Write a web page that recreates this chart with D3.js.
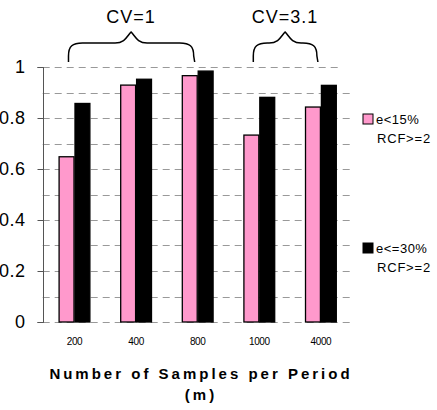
<!DOCTYPE html>
<html><head><meta charset="utf-8">
<script src="https://cdn.jsdelivr.net/npm/d3@7"></script>
<style>body{margin:0;background:#fff}svg{display:block;font-family:"Liberation Sans",Arial,sans-serif}</style>
</head><body><svg width="437" height="410"></svg>
<script>
const categories = ["200","400","800","1000","4000"];
const seriesNames = ["e<15%\nRCF>=2","e<=30%\nRCF>=2"];
const series1 = [0.648,0.929,0.966,0.733,0.843];
const series2 = [0.857,0.952,0.984,0.881,0.928];
const yTicks = [0,0.2,0.4,0.6,0.8,1];
const groups = [{label:"CV=1", from:"200", to:"800"},{label:"CV=3.1", from:"1000", to:"4000"}];

const svg = d3.select("svg");
const pL = 42.7, pR = 352.7, pT = 67, pB = 322;
const x = d3.scaleBand().domain(categories).range([pL,pR]).paddingInner(0.4839).paddingOuter(0.258);
const x1 = d3.scaleBand().domain([0,1]).range([0,x.bandwidth()]);
const y = d3.scaleLinear().domain([0,1]).range([pB,pT]);

// gridlines every 0.1
const gridVals = d3.range(0,11).map(d=>d/10);
svg.append("g").selectAll("line").data(gridVals).join("line")
  .attr("x1",pL).attr("x2",d=> d===1 ? 342 : 352)
  .attr("y1",d=>Math.round(y(d))+0.5).attr("y2",d=>Math.round(y(d))+0.5)
  .attr("stroke","#999").attr("stroke-width",1).attr("stroke-dasharray","7,5");

// y axis
const yAxis = d3.axisLeft(y).tickValues(yTicks).tickFormat(d=>d===0||d===1?String(d):d3.format(".1f")(d)).tickSize(6).tickPadding(12);
const ga = svg.append("g").attr("transform",`translate(${Math.round(pL)+0.5},0)`).call(yAxis);
ga.select(".domain").attr("stroke","#555").attr("d",`M-6,${Math.round(y(0))+0.5}H0V${Math.round(y(1))+0.5}H-6`);
ga.selectAll(".tick line").attr("stroke","#555");
ga.selectAll(".tick text").attr("font-size",18).attr("letter-spacing","0.5px").attr("fill","#000").attr("font-family","Liberation Sans, Arial, sans-serif");

// bars
const data = categories.map((c,i)=>({c, v:[series1[i],series2[i]]}));
const colors = ["#ff99cc","#000"];
const gb = svg.append("g").selectAll("g").data(data).join("g").attr("transform",d=>`translate(${x(d.c)},0)`);
gb.selectAll("rect").data(d=>d.v.map((v,k)=>({v,k}))).join("rect")
  .attr("x",d=>x1(d.k)+0.5).attr("width",x1.bandwidth()-1)
  .attr("y",d=>y(d.v)).attr("height",d=>y(0)-y(d.v))
  .attr("fill",d=>colors[d.k]).attr("stroke","#000").attr("stroke-width",1.3);

// x labels
const xAxis = d3.axisBottom(x).tickSize(0).tickPadding(16);
const gx = svg.append("g").attr("transform",`translate(0,${pB})`).call(xAxis);
gx.select(".domain").remove();
gx.selectAll(".tick text").attr("font-size",10).attr("letter-spacing","-0.4px").attr("fill","#000").attr("font-family","Liberation Sans, Arial, sans-serif");

// axis title
svg.append("text").attr("x",201).attr("y",379).attr("text-anchor","middle").attr("font-size",15).attr("font-weight","bold").attr("letter-spacing","3px").text("Number of Samples per Period");
svg.append("text").attr("x",201).attr("y",400).attr("text-anchor","middle").attr("font-size",15).attr("font-weight","bold").attr("letter-spacing","3px").text("(m)");

// braces
groups.forEach(g=>{
  const x0 = x(g.from)+x.bandwidth()/2 - 6, xe = x(g.to)+x.bandwidth()/2 - 4;
  const xm = (x0+xe)/2, yb = 62, yt = 32, yh = 43;
  const p = d3.path();
  p.moveTo(x0,yb); p.lineTo(x0,yb-6);
  p.bezierCurveTo(x0,yh+3,x0+4,yh,x0+14,yh);
  p.lineTo(xm-16,yh);
  p.bezierCurveTo(xm-6,yh,xm-4,yt+4,xm,yt);
  p.bezierCurveTo(xm+4,yt+4,xm+6,yh,xm+16,yh);
  p.lineTo(xe-14,yh);
  p.bezierCurveTo(xe-4,yh,xe,yh+3,xe,yb-6);
  p.lineTo(xe+1,yb);
  svg.append("path").attr("d",p.toString()).attr("fill","none").attr("stroke","#000").attr("stroke-width",1.5);
  svg.append("text").attr("x",xm).attr("y",23).attr("text-anchor","middle").attr("font-size",18).attr("letter-spacing","1px").text(g.label);
});

// legend
const legY = [114,243];
seriesNames.forEach((n,i)=>{
  svg.append("rect").attr("x",363).attr("y",legY[i]).attr("width",10).attr("height",10).attr("fill",colors[i]).attr("stroke","#000").attr("stroke-width",1);
  const lines = n.split("\n");
  svg.append("text").attr("x",376).attr("y",legY[i]+10).attr("font-size",13).attr("letter-spacing","0.5px").text(lines[0]);
  svg.append("text").attr("x",377).attr("y",legY[i]+29).attr("font-size",13).attr("letter-spacing","0.8px").text(lines[1]);
});
</script></body></html>
